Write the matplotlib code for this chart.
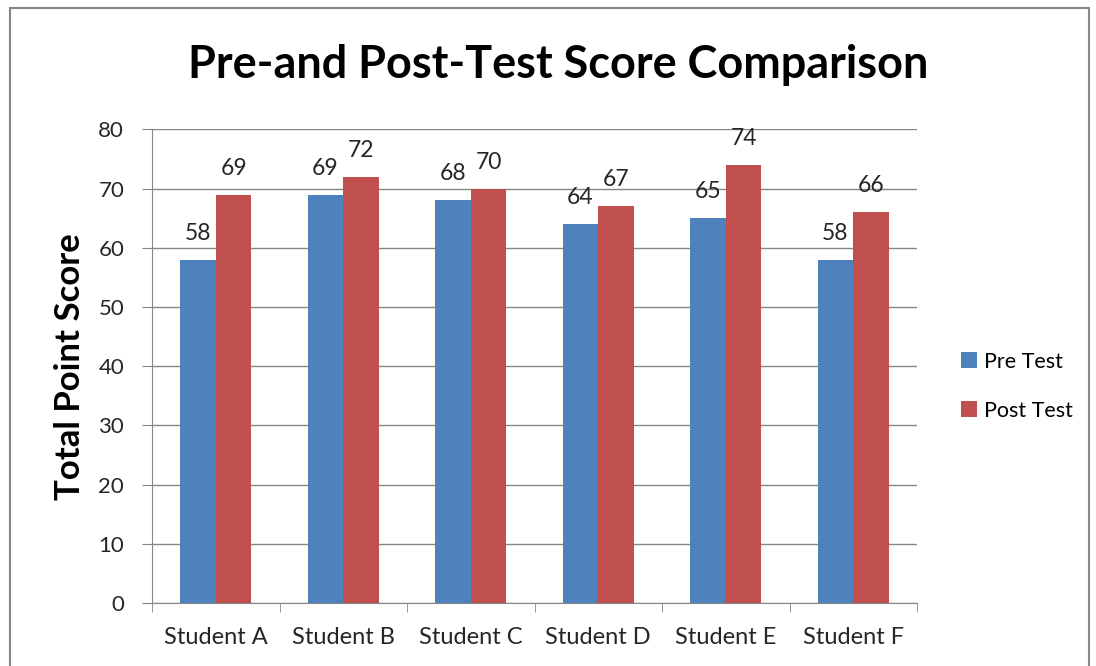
import matplotlib.pyplot as plt
import numpy as np
from matplotlib.patches import Rectangle

students = ['Student A', 'Student B', 'Student C', 'Student D', 'Student E', 'Student F']
pre_test = [58, 69, 68, 64, 65, 58]
post_test = [69, 72, 70, 67, 74, 66]

plt.rcParams['font.family'] = ['Lato', 'DejaVu Sans']

fig = plt.figure(figsize=(10.96, 6.66), dpi=100)
ax = fig.add_axes([0.1387, 0.0946, 0.698, 0.711])

x = np.arange(len(students))
w = 0.28
b1 = ax.bar(x - w / 2, pre_test, w, color='#4F81BD', label='Pre Test', zorder=3)
b2 = ax.bar(x + w / 2, post_test, w, color='#C0504D', label='Post Test', zorder=3)
for bars in (b1, b2):
    for r in bars:
        ax.annotate(f'{int(r.get_height())}', (r.get_x() + r.get_width() / 2, r.get_height()),
                    xytext=(0, 14.4), textcoords='offset points', ha='center', va='baseline',
                    fontsize=16.5, color='#262626')

ax.set_xlim(-0.5, len(students) - 0.5)
ax.set_ylim(0, 80)
ax.set_yticks(range(0, 81, 10))
ax.set_xticks(x)
ax.set_xticklabels(students)
ax.set_xticks(np.arange(-0.5, len(students), 1), minor=True)
ax.tick_params(axis='x', which='major', length=0, pad=17, labelsize=17, labelcolor='#262626')
ax.tick_params(axis='x', which='minor', length=6.5, color='#868686')
ax.tick_params(axis='y', length=7, color='#868686', labelsize=16, pad=13, labelcolor='#262626')
ax.grid(axis='y', color='#868686', linewidth=1, zorder=0)
for s in ['top', 'right']:
    ax.spines[s].set_visible(False)
for s in ['left', 'bottom']:
    ax.spines[s].set_color('#868686')

ax.set_ylabel('Total Point Score', fontsize=25, fontweight='bold', va='center')
ax.yaxis.set_label_coords(-0.107, 0.5)
fig.text(0.509, 0.902, 'Pre-and Post-Test Score Comparison', ha='center', va='center',
         fontsize=32.4, fontweight='bold')

fig.legend(handles=[b1, b2], loc='center left', bbox_to_anchor=(0.877, 0.42), frameon=False,
           fontsize=15.5, handlelength=0.75, handleheight=0.75, handletextpad=0.3,
           labelspacing=1.35, borderpad=0, borderaxespad=0)

fig.patches.append(Rectangle((0.009, -0.1), 0.985, 1.088, transform=fig.transFigure,
                             fill=False, edgecolor='#868686', linewidth=1.5))

fig.savefig('out.png', dpi=100)
